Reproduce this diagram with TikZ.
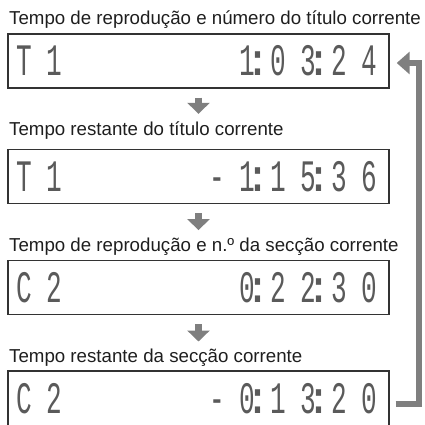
\documentclass[tikz,border=0pt]{standalone}
\usepackage{fontspec}
\setmainfont{Liberation Sans}
\newfontfamily\lcdfont{Liberation Mono}
\usetikzlibrary{arrows.meta}
\definecolor{framegray}{HTML}{333333}
\definecolor{arrowgray}{HTML}{7F7F7F}
\definecolor{inkgray}{HTML}{1E1E1E}
\definecolor{dotgray}{HTML}{5A5A5A}
% one character cell of the display, colons take no room
\makeatletter
\newcommand\lcdtext[1]{\@tfor\lcd@c:=#1\do{\lcd@put}}
\def\lcd@put{\if:\lcd@c\makebox[0pt]{\hspace{-9pt}:}\else\makebox[30.5pt]{\scalebox{0.58}[1]{\lcd@c}}\fi}
\makeatother

\begin{document}
\begin{tikzpicture}[x=1pt,y=-1pt,
  title/.style={anchor=base west,inner sep=0pt,text height=13.5pt,text=inkgray,font=\fontsize{18.7}{21}\selectfont},
  panel/.style={draw=framegray,line width=1.4pt,minimum width=381pt,minimum height=54pt,inner sep=0pt},
  lcd/.style={inner sep=0pt,text=dotgray,font=\lcdfont\fontsize{45}{46}\selectfont},
  flow/.style={draw=arrowgray,line width=7pt,-{Triangle[width=22pt,length=11pt]},shorten <=9pt,shorten >=7.5pt},
  loopback/.style={draw=arrowgray,line width=6pt,-{Triangle[width=22pt,length=13pt]}}]
  \useasboundingbox (0,0) rectangle (424,425);

  % titles
  \node[title] (title1) at (9,24.3) {Tempo de reprodução e número do título corrente};
  \node[title] (title2) at (9,135) {Tempo restante do título corrente};
  \node[title] (title3) at (9,251.3) {Tempo de reprodução e n.º da secção corrente};
  \node[title] (title4) at (9,362.7) {Tempo restante da secção corrente};

  % displays
  \node[panel] (box1) at (198.5,61) {};
  \node[panel] (box2) at (198.5,176.5) {};
  \node[panel] (box3) at (198.5,287.5) {};
  \node[panel,minimum height=56pt] (box4) at (198.5,399) {};

  \node[lcd,anchor=west] (mode1) at ([xshift=1.25pt]box1.west) {\lcdtext{T1}};
  \node[lcd,anchor=east] (time1) at ([xshift=-4.75pt]box1.east) {\lcdtext{1:03:24}};
  \node[lcd,anchor=west] (mode2) at ([xshift=1.25pt]box2.west) {\lcdtext{T1}};
  \node[lcd,anchor=east] (time2) at ([xshift=-4.75pt]box2.east) {\lcdtext{-1:15:36}};
  \node[lcd,anchor=west] (mode3) at ([xshift=1.25pt]box3.west) {\lcdtext{C2}};
  \node[lcd,anchor=east] (time3) at ([xshift=-4.75pt]box3.east) {\lcdtext{0:22:30}};
  \node[lcd,anchor=west] (mode4) at ([xshift=1.25pt]box4.west) {\lcdtext{C2}};
  \node[lcd,anchor=east] (time4) at ([xshift=-4.75pt]box4.east) {\lcdtext{-0:13:20}};

  % arrows
  \draw[flow] (box1.south) -- (box1.south |- title2.north);
  \draw[flow] (box2.south) -- (box2.south |- title3.north);
  \draw[flow] (box3.south) -- (box3.south |- title4.north);
  \draw[loopback] ([xshift=6pt,yshift=-4.5pt]box4.east) -- ++(23,0)
    |- ([xshift=7pt,yshift=-2pt]box1.east);
\end{tikzpicture}
\end{document}
